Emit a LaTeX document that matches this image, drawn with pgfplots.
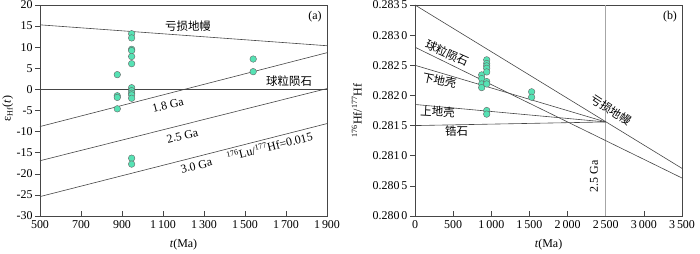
\documentclass[border=0pt]{standalone}
\usepackage{pgfplots}
\pgfplotsset{compat=1.18}
\usepackage{fontspec}
\setmainfont{Liberation Serif}
\newfontfamily\cjk{Noto Sans CJK SC}
\definecolor{pt}{RGB}{86,226,180}
\definecolor{ln}{RGB}{70,70,70}
\newcommand{\fs}{\fontsize{12}{14}\selectfont}
\newcommand{\cfs}{\cjk\fontsize{11.5}{14}\selectfont}
\pgfplotsset{
  myax/.style={
    scale only axis, height=211bp,
    axis line style={ln, line width=0.7bp},
    tick align=inside, xtick pos=bottom, ytick pos=left,
    major tick length=5bp,
    every tick/.style={ln, line width=0.6bp},
    ytick style={xshift=-5bp},
    tick label style={font=\fs},
    xticklabel style={yshift=-1.5bp},
    yticklabel style={xshift=-4bp},
    label style={font=\fs},
    xlabel style={at={(axis description cs:0.5,-0.137)}, anchor=center},
    clip=true,
  },
  ptstyle/.style={only marks, mark=*, mark size=3.3bp, mark options={fill=pt, draw=black!60, line width=0.4bp}},
  lnstyle/.style={ln, line width=0.6bp, no marks},
}
\begin{document}
\begin{tikzpicture}
\useasboundingbox (-40bp,-38bp) rectangle (660bp,216bp);
% ---------------- (a)
\begin{axis}[myax, at={(0,0)}, anchor=south west, width=287bp,
  xmin=500, xmax=1900, ymin=-30, ymax=20,
  xtick={500,700,900,1100,1300,1500,1700,1900},
  xticklabels={500,700,900,1\,100,1\,300,1\,500,1\,700,1\,900},
  ytick={-30,-25,-20,-15,-10,-5,0,5,10,15,20},
  yticklabels={-30,-25,-20,-15,-10,-5,0,5,10,15,20},
  xlabel={\textit{t}(Ma)},
  ylabel={ε\textsubscript{Hf}(\textit{t})},
  ylabel style={at={(axis description cs:-0.112,0.51)}, anchor=center},
]
\addplot[lnstyle] coordinates {(500,15.3) (1900,10.35)};
\addplot[lnstyle] coordinates {(500,0) (1900,0)};
\addplot[lnstyle] coordinates {(500,-8.8) (1900,8.7)};
\addplot[lnstyle] coordinates {(500,-16.9) (1900,0.2)};
\addplot[lnstyle] coordinates {(500,-25.4) (1900,-8.1)};
\addplot[ptstyle] coordinates {
 (877,3.5) (877,-1.5) (877,-1.9) (877,-4.6)
 (947,13.2) (947,12.2) (947,9.5) (947,9.2) (947,7.8) (947,6.1)
 (947,0.4) (947,-0.3) (947,-0.9) (947,-1.3) (947,-2.1)
 (947,-16.3) (947,-17.7)
 (1540,7.2) (1540,4.2)};
\node[font=\cfs] at (axis cs:1222,14.9) {亏损地幔};
\node[font=\cfs] at (axis cs:1715,1.9) {球粒陨石};
\node[rotate=14, font=\fs] at (axis cs:1124,-3.7) {1.8 Ga};
\node[rotate=14, font=\fs] at (axis cs:1195,-11.0) {2.5 Ga};
\node[rotate=14, font=\fs] at (axis cs:1263,-18.1) {3.0 Ga};
\node[rotate=14, font=\fs] at (axis cs:1620,-13.5) {\textsuperscript{176}Lu/\textsuperscript{177}Hf=0.015};
\node[font=\fs] at (rel axis cs:0.958,0.943) {(a)};
\end{axis}
% ---------------- (b)
\begin{axis}[myax, at={(375bp,0)}, anchor=south west, width=267bp,
  xmin=0, xmax=3500, ymin=0.2800, ymax=0.2835,
  xtick={0,500,1000,1500,2000,2500,3000,3500},
  xticklabels={0,500,1\,000,1\,500,2\,000,2\,500,3\,000,3\,500},
  ytick={0.2800,0.2805,0.2810,0.2815,0.2820,0.2825,0.2830,0.2835},
  yticklabels={0.280\,0,0.280\,5,0.281\,0,0.281\,5,0.282\,0,0.282\,5,0.283\,0,0.283\,5},
  scaled y ticks=false,
  xlabel={\textit{t}(Ma)},
  ylabel={\textsuperscript{176}Hf/\textsuperscript{177}Hf},
  ylabel style={at={(axis description cs:-0.218,0.5)}, anchor=center},
]
\addplot[black!35, line width=0.6bp, no marks] coordinates {(2500,0.2800) (2500,0.2835)};
\addplot[lnstyle] coordinates {(0,0.28350) (3500,0.28079)};
\addplot[lnstyle] coordinates {(0,0.28280) (3500,0.28063)};
\addplot[lnstyle] coordinates {(0,0.28250) (2500,0.28156)};
\addplot[lnstyle] coordinates {(0,0.28185) (2500,0.28156)};
\addplot[lnstyle] coordinates {(0,0.28150) (2500,0.28156)};
\addplot[ptstyle] coordinates {
 (874,0.28234) (874,0.28228) (874,0.28219) (874,0.28213)
 (940,0.28259) (940,0.28253) (940,0.28249) (940,0.28245) (940,0.28239)
 (940,0.28223) (940,0.28219) (940,0.28175) (940,0.28169)
 (1529,0.28206) (1529,0.28197)};
\node[rotate=-24, font=\cfs] at (axis cs:419,0.28270) {球粒陨石};
\node[rotate=-12, font=\cfs] at (axis cs:321,0.28225) {下地壳};
\node[rotate=-3, font=\cfs] at (axis cs:295,0.28173) {上地壳};
\node[font=\cfs] at (axis cs:544,0.28140) {锆石};
\node[rotate=-33, font=\cfs] at (axis cs:2569,0.28176) {亏损地幔};
\node[rotate=90, font=\fs] at (axis cs:2346,0.28066) {2.5 Ga};
\node[font=\fs] at (rel axis cs:0.955,0.943) {(b)};
\end{axis}
\end{tikzpicture}
\end{document}
